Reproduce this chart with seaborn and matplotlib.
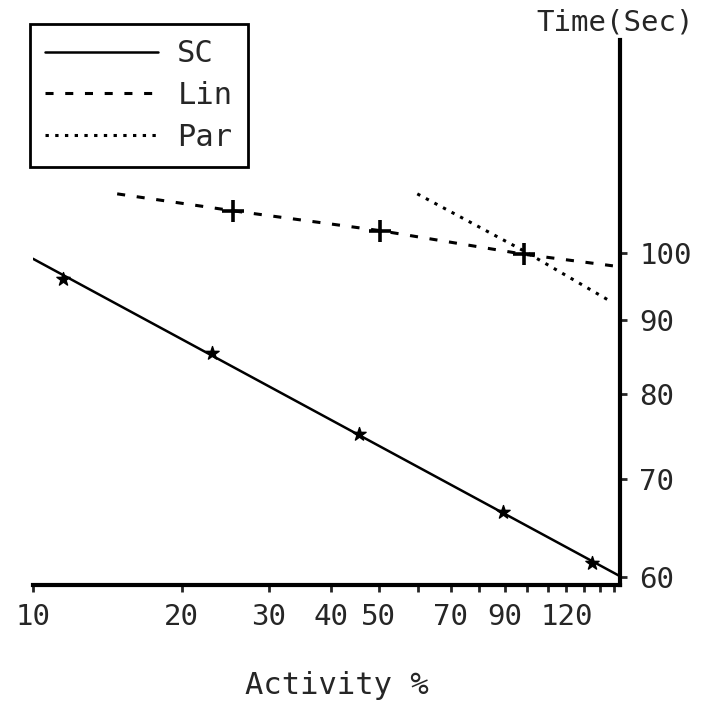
import matplotlib
matplotlib.use("Agg")
import matplotlib.pyplot as plt
from matplotlib.lines import Line2D
from matplotlib.ticker import FixedLocator, FixedFormatter, NullLocator
import seaborn as sns

# SC: measured points and fitted line
sc_activity = [11.5, 23.0, 45.7, 89.4, 135.0]
sc_time = [96.0, 85.4, 75.2, 66.4, 61.3]
sc_fit_activity = [10.0, 153.0]
sc_fit_time = [99.1, 60.1]

# Lin: line and its "+" points
lin_activity = [14.8, 25.4, 50.4, 98.6, 149.0]
lin_time = [109.8, 106.9, 103.6, 99.8, 98.0]
lin_mark_activity = [25.4, 50.4, 98.6]
lin_mark_time = [106.9, 103.6, 99.8]

# Par: dotted curve
par_activity = [59.9, 98.6, 147.0]
par_time = [109.8, 100.3, 92.7]

x_ticks = [10, 20, 30, 40, 50, 60, 70, 80, 90, 100, 110, 120, 130, 140, 150]
x_labels = ["10", "20", "30", "40", "50", "", "70", "", "90", "", "", "120", "", "", ""]
y_ticks = [60, 70, 80, 90, 100]
y_labels = ["60", "70", "80", "90", "100"]

sns.set_style("white")
plt.rcParams["font.family"] = ["DejaVu Sans Mono"]
plt.rcParams["lines.scale_dashes"] = False

FS = 21
DASHED = (0, (5.8, 8.4))
DOTTED = (0, (2.4, 4.6))

fig = plt.figure(figsize=(7.1, 7.02), dpi=100)
ax = fig.add_axes([33 / 710, 1 - 585 / 702, 587 / 710, 545 / 702])
ax.set_xscale("log")
ax.set_yscale("log")

sns.lineplot(x=sc_fit_activity, y=sc_fit_time, ax=ax, color="black", lw=1.8,
             sort=False, estimator=None)
sns.scatterplot(x=sc_activity, y=sc_time, ax=ax, marker="*", s=100,
                color="black", edgecolor="black", linewidth=1)

sns.lineplot(x=lin_activity, y=lin_time, ax=ax, color="black", lw=2.2,
             sort=False, estimator=None, linestyle=DASHED)
sns.scatterplot(x=lin_mark_activity, y=lin_mark_time, ax=ax, marker="+", s=260,
                color="black", linewidth=2.6)

sns.lineplot(x=par_activity, y=par_time, ax=ax, color="black", lw=2.2,
             sort=False, estimator=None, linestyle=DOTTED)

ax.set_xlim(10, 154)
ax.set_ylim(59.2, 140)

ax.xaxis.set_major_locator(FixedLocator(x_ticks))
ax.xaxis.set_major_formatter(FixedFormatter(x_labels))
ax.xaxis.set_minor_locator(NullLocator())
ax.yaxis.set_major_locator(FixedLocator(y_ticks))
ax.yaxis.set_major_formatter(FixedFormatter(y_labels))
ax.yaxis.set_minor_locator(NullLocator())

ax.yaxis.tick_right()
ax.tick_params(axis="x", direction="out", length=5, width=2, labelsize=FS, pad=8,
               bottom=True)
ax.tick_params(axis="y", direction="out", length=5, width=2, labelsize=FS, pad=9,
               right=True, left=False)

for side in ["left", "top"]:
    ax.spines[side].set_visible(False)
for side in ["bottom", "right"]:
    ax.spines[side].set_linewidth(3)
    ax.spines[side].set_color("black")

ax.set_xlabel("Activity %", fontsize=FS + 1)
ax.xaxis.set_label_coords(0.518, -0.158)
ax.set_ylabel("")
fig.text(615 / 710, 1 - 22 / 702, "Time(Sec)", fontsize=FS, ha="center", va="center")

handles = [
    Line2D([], [], color="black", lw=1.8),
    Line2D([], [], color="black", lw=2.2, linestyle=DASHED),
    Line2D([], [], color="black", lw=2.2, linestyle=DOTTED),
]
leg = fig.legend(handles, ["SC", "Lin", "Par"], loc="upper left",
                 bbox_to_anchor=(30 / 710, 1 - 24 / 702), bbox_transform=fig.transFigure,
                 fontsize=FS + 1, handlelength=3.7, handletextpad=0.62,
                 borderpad=0.5, labelspacing=0.42, borderaxespad=0,
                 fancybox=False, framealpha=1, edgecolor="black")
leg.get_frame().set_linewidth(2)

fig.savefig("out.png", dpi=100)
